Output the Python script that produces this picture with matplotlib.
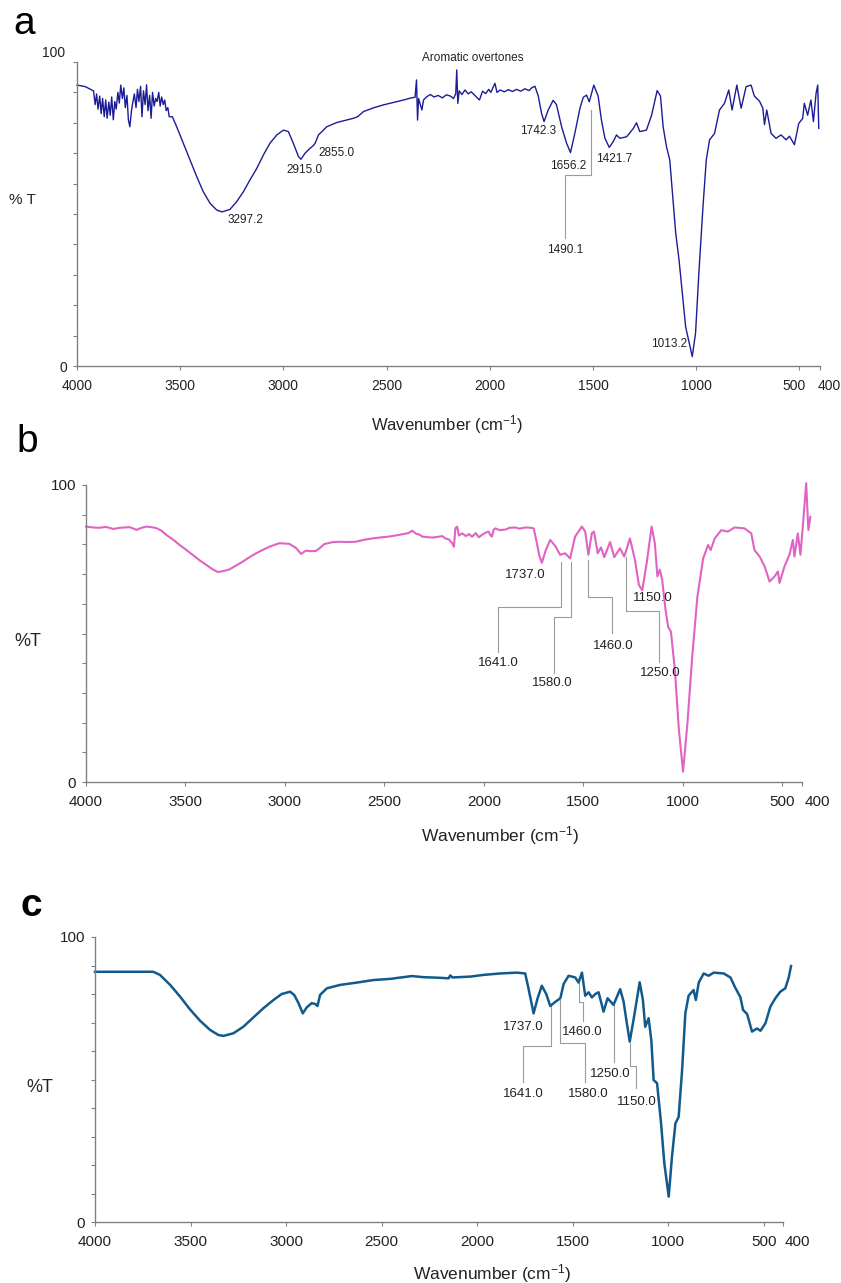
import numpy as np
import matplotlib
matplotlib.use("Agg")
import matplotlib.pyplot as plt
from matplotlib.transforms import ScaledTranslation

plt.rcParams['font.family'] = ['Liberation Sans', 'DejaVu Sans']
plt.rcParams['mathtext.fontset'] = 'custom'
plt.rcParams['mathtext.rm'] = 'Liberation Sans'
plt.rcParams['mathtext.it'] = 'Liberation Sans:italic'

# ---------------- data ----------------
# panel a
wn_a = [4000, 3960, 3935,
        3920, 3912, 3905, 3898, 3890, 3883, 3876, 3868, 3861, 3854, 3846, 3839, 3832, 3824,
        3817, 3810, 3802, 3795, 3788, 3780, 3773, 3766, 3758, 3751, 3744, 3736, 3729, 3722,
        3714, 3707, 3700, 3692, 3685, 3678, 3670, 3663, 3656, 3648, 3641, 3634, 3626, 3619,
        3612, 3604, 3597, 3590, 3582, 3575, 3568, 3560, 3553,
        3538, 3517, 3485, 3452, 3420, 3388, 3355, 3323, 3297, 3259, 3226, 3194, 3162, 3129,
        3097, 3065, 3032, 3000, 2976, 2952, 2927, 2915, 2895, 2871, 2855, 2846, 2830, 2790,
        2741, 2700, 2660, 2640, 2612, 2560, 2515, 2460, 2418, 2380, 2362, 2355, 2350, 2345,
        2329, 2321, 2305, 2288, 2270, 2250, 2230, 2210, 2191, 2176, 2165, 2160, 2155, 2148,
        2135, 2120, 2105, 2090, 2050, 2035, 2020, 2005, 1995, 1975, 1965, 1950, 1930, 1910,
        1890, 1870, 1850, 1830, 1810, 1795, 1781, 1765, 1749, 1737, 1717, 1693, 1677, 1652,
        1628, 1609, 1588, 1563, 1547, 1531, 1518, 1496, 1475, 1459, 1442, 1421, 1402, 1386,
        1370, 1337, 1305, 1289, 1273, 1241, 1216, 1189, 1173, 1160, 1144, 1128, 1112, 1099,
        1083, 1067, 1051, 1035, 1019, 1003, 987, 967, 951, 935, 911, 887, 863, 842, 826, 803,
        782, 758, 734, 718, 693, 677, 669, 658, 637, 613, 589, 564, 548, 524, 503, 484, 476,
        460, 444, 432, 419, 411, 406]
t_a = [92.4, 91.9, 91.0,
       90.5, 86.0, 89.5, 84.5, 88.8, 83.0, 88.0, 82.0, 87.5, 81.5, 86.8, 82.5, 88.5, 81.0,
       87.0, 84.5, 90.0, 86.5, 92.4, 88.0, 91.5, 85.0, 89.0, 81.0, 78.7, 84.0, 87.0, 89.5,
       85.0, 91.0, 87.0, 92.0, 82.0, 90.5, 86.0, 92.5, 84.0, 89.0, 81.5, 90.0, 85.5, 88.0,
       87.0, 90.0, 85.5, 88.5, 86.0, 87.5, 84.0, 85.0, 82.0,
       82.0, 78.7, 73.3, 67.8, 62.3, 57.3, 53.5, 51.3, 50.7, 51.5, 54.1, 57.3, 61.2, 65.0,
       69.4, 73.3, 76.0, 77.6, 77.1, 73.3, 68.9, 68.0, 70.0, 71.6, 72.5, 73.3, 76.0, 78.7,
       80.1, 80.8, 81.5, 82.0, 83.7, 85.0, 85.9, 86.8, 87.5, 88.2, 88.4, 94.1, 80.9, 88.0,
       84.2, 87.5, 88.6, 89.3, 88.5, 89.0, 88.2, 89.2, 88.8, 88.0, 89.5, 97.4, 86.4, 90.5,
       89.3, 90.8, 89.5, 90.2, 87.5, 90.4, 89.6, 91.0, 90.0, 93.0, 90.0, 90.8, 90.2, 90.9,
       90.3, 91.0, 90.4, 91.2, 90.6, 91.6, 92.0, 88.8, 83.1, 80.4, 84.2, 87.4, 86.0, 78.7,
       73.3, 70.2, 76.5, 84.8, 88.4, 89.1, 86.9, 92.4, 88.8, 80.9, 74.9, 71.9, 73.8, 76.0,
       74.9, 75.4, 78.1, 80.0, 77.1, 77.6, 82.5, 90.6, 88.8, 78.7, 72.2, 67.8, 54.6, 43.7,
       34.9, 23.9, 12.9, 8.0, 3.1, 10.8, 30.5, 52.4, 67.8, 74.4, 76.5, 84.2, 86.4, 90.8, 84.2, 92.4,
       84.8, 91.9, 92.4, 88.8, 87.1, 84.8, 79.4, 84.2, 76.5, 74.9, 76.0, 74.4, 75.6, 72.8, 79.8, 81.4, 86.4,
       82.5, 87.5, 80.4, 89.7, 92.4, 78.2]

# panel b
wn_b = [4000, 3965, 3930, 3900, 3863, 3830, 3780, 3746, 3720, 3696, 3670, 3646, 3620, 3596,
        3560, 3529, 3495, 3462, 3430, 3395, 3365, 3337, 3310, 3278, 3245, 3212, 3180, 3145,
        3110, 3078, 3050, 3028, 2978, 2944, 2919, 2894, 2870, 2844, 2820, 2802, 2765, 2727,
        2690, 2643, 2600, 2560, 2526, 2480, 2426, 2380, 2359, 2343, 2320, 2309, 2259, 2226,
        2209, 2193, 2176, 2159, 2150, 2143, 2134, 2125, 2109, 2090, 2075, 2059, 2040, 2025,
        2009, 1990, 1976, 1965, 1959, 1950, 1942, 1920, 1891, 1870, 1842, 1820, 1791, 1765,
        1749, 1733, 1720, 1708, 1688, 1666, 1641, 1616, 1591, 1566, 1541, 1507, 1490, 1474,
        1457, 1446, 1427, 1411, 1394, 1365, 1344, 1315, 1294, 1265, 1240, 1220, 1203, 1181,
        1156, 1140, 1127, 1115, 1103, 1086, 1073, 1059, 1039, 1019, 998, 976, 952, 926, 897,
        872, 859, 839, 806, 773, 739, 689, 655, 639, 613, 588, 563, 538, 521, 513, 488, 463,
        446, 438, 421, 408, 396, 379, 368, 358]
t_b = [86.0, 85.7, 85.6, 85.9, 85.2, 85.6, 85.8, 84.9, 85.6, 86.0, 85.8, 85.5, 84.6, 83.2,
       81.5, 79.8, 78.1, 76.4, 74.7, 73.1, 71.7, 70.7, 71.0, 71.6, 72.9, 74.2, 75.6, 77.0,
       78.2, 79.2, 79.9, 80.4, 80.2, 78.8, 76.8, 77.9, 77.7, 77.8, 79.0, 80.1, 80.7, 80.9,
       80.8, 80.9, 81.6, 82.0, 82.3, 82.6, 83.2, 83.8, 84.6, 83.7, 83.2, 82.6, 82.3, 82.6,
       82.8, 82.0, 81.7, 80.4, 79.2, 85.4, 86.0, 83.0, 83.7, 82.8, 83.5, 82.6, 83.8, 82.4,
       83.2, 84.0, 84.3, 83.0, 82.6, 85.0, 85.4, 84.8, 85.0, 85.6, 85.7, 85.3, 85.7, 85.6,
       85.4, 80.4, 76.0, 73.8, 78.1, 81.5, 79.5, 76.5, 77.0, 75.3, 82.6, 86.0, 84.3, 76.5,
       83.7, 84.3, 77.0, 79.0, 75.7, 80.8, 75.7, 78.7, 75.9, 82.0, 74.8, 66.3, 64.6, 73.7,
       86.0, 80.4, 69.2, 71.5, 68.1, 57.9, 52.3, 50.6, 37.7, 17.5, 3.5, 19.8, 42.2, 62.4, 75.3,
       79.8, 78.1, 82.0, 84.8, 84.3, 85.7, 85.4, 83.7, 78.1, 75.9, 72.6, 67.5, 69.2, 70.9, 67.0, 72.6, 76.5,
       81.5, 75.9, 83.7, 76.5, 86.0, 100.6, 84.8, 89.3]

# panel c
wn_c = [4000, 3850, 3695, 3660, 3607, 3555, 3503, 3450, 3398, 3354, 3328, 3276, 3224, 3171,
        3119, 3066, 3023, 2979, 2958, 2935, 2913, 2892, 2866, 2848, 2836, 2822, 2787, 2717,
        2630, 2543, 2456, 2342, 2281, 2200, 2150, 2141, 2130, 2037, 1967, 1880, 1793, 1749,
        1731, 1705, 1684, 1662, 1639, 1618, 1592, 1565, 1548, 1522, 1487, 1470, 1452, 1435,
        1417, 1400, 1382, 1365, 1339, 1318, 1287, 1252, 1234, 1220, 1202, 1182, 1150, 1133,
        1121, 1103, 1089, 1077, 1059, 1038, 1021, 998, 981, 963, 946, 928, 911, 894, 868, 856,
        841, 815, 789, 763, 710, 675, 649, 623, 609, 588, 562, 536, 518, 492, 466, 440, 414,
        388, 370, 358]
t_c = [87.8, 87.8, 87.8, 86.7, 83.2, 79.1, 74.6, 70.6, 67.4, 65.6, 65.3, 66.2, 68.5, 71.8,
       75.0, 77.9, 80.0, 80.8, 79.7, 76.8, 73.2, 75.3, 76.8, 76.5, 75.8, 79.7, 82.0, 83.2,
       84.0, 84.9, 85.3, 86.3, 85.9, 85.7, 85.5, 86.5, 85.8, 86.1, 86.7, 87.2, 87.5, 87.2,
       81.7, 73.2, 78.5, 82.9, 80.0, 75.8, 77.2, 78.5, 83.5, 86.4, 85.8, 84.0, 87.5, 79.4,
       80.6, 78.8, 80.0, 80.6, 73.8, 78.5, 76.2, 81.7, 77.3, 71.0, 63.3, 71.0, 84.1, 77.9,
       68.5, 71.5, 63.7, 49.8, 48.7, 34.6, 20.6, 8.9, 22.9, 34.6, 36.9, 53.3, 73.2, 79.4, 81.4, 77.9,
       84.0, 87.2, 86.4, 87.5, 87.2, 85.8, 82.1, 78.9, 74.4, 73.0, 66.8, 67.9, 67.1, 69.7, 75.6, 78.5, 80.8,
       82.0, 85.8, 89.8]

x_ticks = [4000, 3500, 3000, 2500, 2000, 1500, 1000, 500, 400]
x_ticklabels = ['4000', '3500', '3000', '2500', '2000', '1500', '1000', '500', '400']

# peak labels: (text, x, y) and leader lines
labels_a = [('3297.2', 3186, 48.0), ('2915.0', 2898, 64.5), ('2855.0', 2745, 70.1),
            ('1742.3', 1764, 77.3), ('1656.2', 1619, 65.8), ('1421.7', 1396, 68.1),
            ('1490.1', 1636, 38.2), ('1013.2', 1132, 7.2)]
leaders_a = [([1510, 1510, 1636, 1636], [84.2, 62.8, 62.8, 42.1])]

labels_b = [('1737.0', 1789, 69.7), ('1641.0', 1927, 40.1), ('1580.0', 1654, 33.3),
            ('1460.0', 1351, 45.8), ('1250.0', 1113, 36.7), ('1150.0', 1150, 62.0)]
leaders_b = [([1612, 1612, 1928, 1928], [74.2, 59.0, 59.0, 43.9]),
             ([1560, 1560, 1649, 1649], [74.2, 55.7, 55.7, 36.6]),
             ([1477, 1477, 1353, 1353], [74.7, 62.4, 62.4, 50.1]),
             ([1287, 1287, 1119, 1119], [75.7, 57.7, 57.7, 40.5])]

labels_c = [('1737.0', 1759, 68.4), ('1641.0', 1757, 44.9), ('1460.0', 1448, 66.7),
            ('1580.0', 1419, 44.9), ('1250.0', 1304, 51.9), ('1150.0', 1165, 42.1)]
leaders_c = [([1614, 1614, 1758, 1758], [75.8, 61.8, 61.8, 49.2]),
             ([1469, 1469, 1447, 1447], [84.0, 77.3, 77.3, 70.6]),
             ([1565, 1565, 1435, 1435], [77.9, 62.7, 62.7, 49.2]),
             ([1283, 1283], [76.1, 56.2]),
             ([1199, 1199, 1168, 1168], [62.7, 54.7, 54.7, 46.9])]

# ---------------- figure ----------------
W, H = 841, 1283
fig = plt.figure(figsize=(W / 100, H / 100), dpi=100)
fig.patch.set_facecolor('white')


def make_axes(left, right, top, bottom):
    return fig.add_axes([left / W, (H - bottom) / H, (right - left) / W, (bottom - top) / H])


def style_axes(ax, tick_fs, shift500, shift400, show100=True):
    ax.set_xlim(4000, 400)
    ax.set_ylim(0, 100)
    for s in ['top', 'right']:
        ax.spines[s].set_visible(False)
    for s in ['left', 'bottom']:
        ax.spines[s].set_color('#808080')
        ax.spines[s].set_linewidth(1.0)
    ax.set_xticks(x_ticks)
    ax.set_xticklabels(x_ticklabels)
    ax.set_yticks([0, 100])
    ax.set_yticklabels(['0', '100' if show100 else ''])
    ax.set_yticks(np.arange(10, 100, 10), minor=True)
    ax.tick_params(axis='both', which='both', direction='out', color='#808080',
                   length=3, width=0.8, labelsize=tick_fs, labelcolor='#222222')
    ax.tick_params(axis='x', pad=6)
    ax.tick_params(axis='y', pad=4)
    # the last two tick labels sit close together, nudge them apart
    xt = ax.xaxis.get_major_ticks()
    for tick, dx in [(xt[-2], shift500), (xt[-1], shift400)]:
        lab = tick.label1
        lab.set_transform(lab.get_transform() + ScaledTranslation(dx / 100, 0, fig.dpi_scale_trans))


def add_labels(ax, labels, leaders, fs):
    for xs, ys in leaders:
        ax.plot(xs, ys, color='#9a9a9a', lw=0.8, zorder=1)
    for txt, x, y in labels:
        ax.text(x, y, txt, ha='center', va='center', fontsize=fs, color='#222222', zorder=3)


# panel a
ax_a = make_axes(77, 820, 62, 366)
ax_a.plot(wn_a, t_a, color='#1c1c96', lw=1.0, clip_on=False, zorder=2)
style_axes(ax_a, 10, -5, 9, show100=False)
ax_a.annotate('100', xy=(4000, 100), xytext=(-8.5, 6.5), textcoords='offset points',
              ha='right', va='center', fontsize=10, color='#222222', annotation_clip=False)
add_labels(ax_a, labels_a, leaders_a, 8.5)
ax_a.text(2081, 101.3, 'Aromatic overtones', ha='center', va='center', fontsize=8.5,
          color='#222222', clip_on=False)
fig.text(22 / W, 1 - 200 / H, '% T', ha='center', va='center', fontsize=11, color='#222222')
fig.text(447 / W, 1 - 425 / H, 'Wavenumber (cm$^{-1}$)', ha='center', va='center',
         fontsize=12, color='#222222')
fig.text(24 / W, 1 - 24 / H, 'a', ha='center', va='center', fontsize=28, color='black')

# panel b
ax_b = make_axes(86, 802, 485, 782)
ax_b.plot(wn_b, t_b, color='#e063c4', lw=1.5, clip_on=False, zorder=2)
style_axes(ax_b, 11, 0, 15)
add_labels(ax_b, labels_b, leaders_b, 9.5)
fig.text(28 / W, 1 - 642 / H, '%T', ha='center', va='center', fontsize=13, color='#222222')
fig.text(500 / W, 1 - 836 / H, 'Wavenumber (cm$^{-1}$)', ha='center', va='center',
         fontsize=12.5, color='#222222')
fig.text(27 / W, 1 - 442 / H, 'b', ha='center', va='center', fontsize=28, color='black')

# panel c
ax_c = make_axes(95, 783, 937, 1222)
ax_c.plot(wn_c, t_c, color='#125a8c', lw=1.8, clip_on=False, zorder=2)
style_axes(ax_c, 11, 0, 14)
add_labels(ax_c, labels_c, leaders_c, 9.5)
fig.text(40 / W, 1 - 1087 / H, '%T', ha='center', va='center', fontsize=13, color='#222222')
fig.text(492 / W, 1 - 1274 / H, 'Wavenumber (cm$^{-1}$)', ha='center', va='center',
         fontsize=12.5, color='#222222')
fig.text(31 / W, 1 - 906 / H, 'c', ha='center', va='center', fontsize=28,
         fontweight='bold', color='black')

fig.savefig('out.png', dpi=100, facecolor='white')
